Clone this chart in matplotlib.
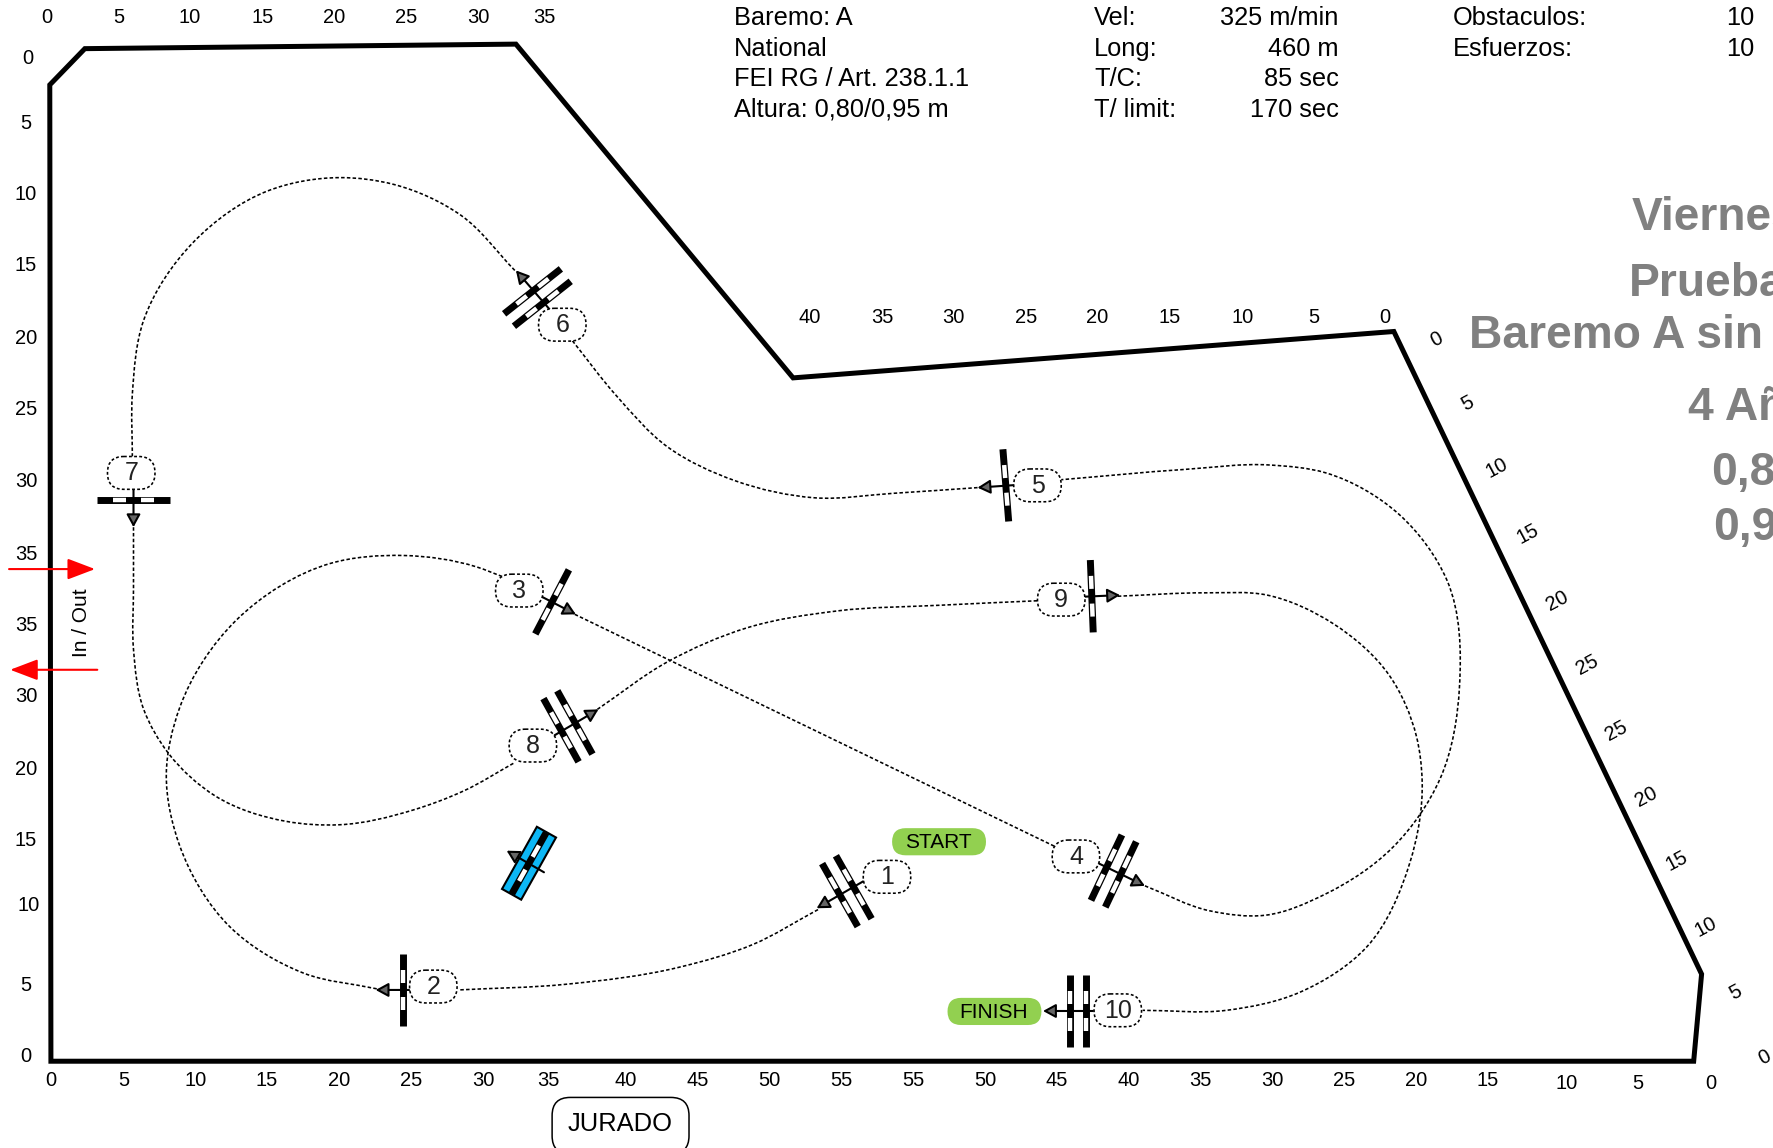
import numpy as np
import matplotlib
matplotlib.use('Agg')
import matplotlib.pyplot as plt
from matplotlib.patches import FancyBboxPatch, Polygon, PathPatch
from matplotlib.path import Path

plt.rcParams['font.family'] = ['Liberation Sans', 'DejaVu Sans']

# coordinates are read from the plan itself (1568 units wide, y going down)
ANCHO = 1568
ALTO = 1014.7

# arena
arena_x = [45, 44, 75, 456, 701, 1232, 1504, 1497]
arena_y = [938, 75, 43, 39, 334, 293, 861, 938]

# metre marks along the fences
top_labels = [0, 5, 10, 15, 20, 25, 30, 35]
top_x = [41, 105, 168, 232, 295, 359, 423, 481]
left_labels = [0, 5, 10, 15, 20, 25, 30, 35, 35, 30, 20, 15, 10, 5, 0]
left_x = [25, 23, 23, 23, 23, 23, 23, 23, 23, 23, 23, 23, 25, 23, 23]
left_y = [51, 108, 171, 234, 298, 361, 425, 489, 552, 615, 679, 742, 799, 870, 933]
bottom_labels = [0, 5, 10, 15, 20, 25, 30, 35, 40, 45, 50, 55,
                 55, 50, 45, 40, 35, 30, 25, 20, 15, 10, 5, 0]
bottom_x = [45, 109, 173, 236, 300, 363, 427, 485, 553, 617, 680, 744,
            807, 871, 934, 998, 1061, 1125, 1188, 1252, 1315, 1385, 1448, 1512]
bottom_y = [954] * 21 + [957] * 3
mid_labels = [40, 35, 30, 25, 20, 15, 10, 5, 0]
mid_x = [716, 780, 843, 907, 970, 1034, 1098, 1161, 1224]
right_labels = [0, 5, 10, 15, 20, 25, 25, 20, 15, 10, 5, 0]
right_x = [1270, 1297, 1323, 1350, 1376, 1403, 1429, 1455, 1482, 1508, 1534, 1560]
right_y = [299, 356, 413, 471, 530, 587, 645, 703, 760, 818, 876, 934]

# header
info_1 = ['Baremo: A', 'National', 'FEI RG / Art. 238.1.1', 'Altura: 0,80/0,95 m']
info_2 = ['Vel:', 'Long:', 'T/C:', 'T/ limit:']
info_2_val = ['325 m/min', '460 m', '85 sec', '170 sec']
info_3 = ['Obstaculos:', 'Esfuerzos:']
info_3_val = ['10', '10']
info_y = [15, 42, 69, 96]

# big grey title, it runs off the page on the right
titulo = ['Viernes', 'Prueba', 'Baremo A sin', '4 Años', '0,80', '0,95']
titulo_x = [1443, 1441, 1299, 1493, 1513, 1515]
titulo_y = [190, 248, 294, 358, 415, 464]

# obstacles
num = ['1', '2', '3', '4', '5', '6', '7', '8', '9', '10']
label_x = [784, 383, 459, 951, 917, 497, 116, 471, 938, 988]
label_y = [775, 872, 522, 757, 429, 287, 418, 659, 530, 893]
jump_x = [748.5, 356, 488, 984.3, 889, 475, 118, 502, 965, 952.5]
jump_y = [787.7, 875, 532, 769.9, 429, 263, 442, 642, 527, 893.6]
stem_x = [763, 362, 478, 970.8, 908, 488, 118, 490, 945, 966]
stem_y = [779, 875, 527, 763, 428, 276, 431, 650, 528, 893.6]
tip_x = [721.8, 332, 509, 1012, 864, 456, 118, 529, 990, 921.9]
tip_y = [802.8, 875, 543, 783, 431, 239, 466, 627, 526, 893.6]
rails = [2, 1, 1, 2, 1, 2, 1, 2, 1, 2]

# the practice fence in blue
blue_x, blue_y = 467.6, 763
blue_stem = [480.8, 771]
blue_tip = [447.8, 751.9]

# route between the obstacles
routes = [
    [(723, 804), (665, 835), (600, 855), (500, 870), (405, 875)],
    [(333, 874), (268, 860), (203, 819), (159, 748), (147, 684), (159, 625), (209, 548),
     (292, 498), (357, 491), (421, 501), (445, 510)],
    [(508, 543), (932, 748)],
    [(1012, 783), (1069, 805), (1118, 809), (1172, 790), (1231, 749), (1273, 688), (1290, 607),
     (1279, 513), (1237, 455), (1172, 418), (1122, 411), (1046, 415), (938, 424)],
    [(864, 431), (790, 436), (720, 440), (650, 425), (590, 395), (545, 350), (505, 300)],
    [(455, 239), (407, 190), (348, 163), (300, 157), (236, 169), (171, 214), (127, 283),
     (117, 348), (117, 405)],
    [(118, 466), (118, 520), (118, 574), (127, 627), (149, 666), (191, 704), (253, 726),
     (300, 729), (365, 716), (410, 699), (455, 674)],
    [(528, 627), (590, 585), (660, 555), (740, 540), (830, 535), (917, 531)],
    [(988, 527), (1066, 524), (1120, 526), (1178, 551), (1228, 597), (1252, 651), (1257, 690),
     (1246, 763), (1208, 837), (1149, 877), (1084, 893), (1010, 893)],
]


def smooth_path(puntos):
    # spline through the points, tangents weighted by the chord lengths
    p = np.array(puntos, dtype=float)
    if len(p) == 2:
        return Path(p)
    d = np.hypot(*np.diff(p, axis=0).T)
    tang = np.zeros_like(p)
    tang[0] = (p[1] - p[0]) / d[0]
    tang[-1] = (p[-1] - p[-2]) / d[-1]
    for i in range(1, len(p) - 1):
        a = (p[i] - p[i - 1]) / d[i - 1]
        b = (p[i + 1] - p[i]) / d[i]
        tang[i] = (a * d[i] + b * d[i - 1]) / (d[i - 1] + d[i])
    verts = [p[0]]
    codes = [Path.MOVETO]
    for i in range(len(p) - 1):
        verts += [p[i] + tang[i] * d[i] / 3, p[i + 1] - tang[i + 1] * d[i] / 3, p[i + 1]]
        codes += [Path.CURVE4] * 3
    return Path(verts, codes)


def draw_rail(ax, cx, cy, dx, dy, largo=32):
    # black rail with two white blocks, (dx, dy) is the unit vector along it
    ax.plot([cx - dx * largo, cx + dx * largo], [cy - dy * largo, cy + dy * largo],
            color='black', lw=5, solid_capstyle='butt', zorder=5)
    for a, b in [(-18, -6.5), (6.5, 18)]:
        ax.plot([cx + dx * a, cx + dx * b], [cy + dy * a, cy + dy * b],
                color='white', lw=3.2, solid_capstyle='butt', zorder=6)


def draw_stem(ax, x0, y0, x1, y1):
    ax.annotate('', xy=(x1, y1), xytext=(x0, y0), zorder=7,
                arrowprops=dict(arrowstyle='-|>,head_length=0.55,head_width=0.3', fc='#666666',
                                ec='black', lw=1.5, mutation_scale=14,
                                shrinkA=0, shrinkB=0))


fig = plt.figure(figsize=(17.74, 11.48), dpi=100)
ax = fig.add_axes([0, 0, 1, 1])
ax.set_xlim(0, ANCHO)
ax.set_ylim(ALTO, 0)
ax.axis('off')

# arena fence
ax.add_patch(Polygon(np.column_stack([arena_x, arena_y]), closed=True, fill=False,
                     ec='black', lw=3.6, joinstyle='miter', zorder=2))

# metre labels
for t, x in zip(top_labels, top_x):
    ax.text(x, 15.5, str(t), fontsize=14.5, ha='center', va='center')
for t, x, y in zip(left_labels, left_x, left_y):
    ax.text(x, y + 1, str(t), fontsize=14.5, ha='center', va='center')
for t, x, y in zip(bottom_labels, bottom_x, bottom_y):
    ax.text(x, y + 1, str(t), fontsize=14.5, ha='center', va='center')
for t, x in zip(mid_labels, mid_x):
    ax.text(x, 281, str(t), fontsize=14.5, ha='center', va='center')
for t, x, y in zip(right_labels, right_x, right_y):
    ax.text(x, y + 1, str(t), fontsize=14.5, ha='center', va='center', rotation=28)

# header texts
for t, y in zip(info_1, info_y):
    ax.text(649, y + 1, t, fontsize=18.3, ha='left', va='center')
for t, v, y in zip(info_2, info_2_val, info_y):
    ax.text(967, y + 1, t, fontsize=18.3, ha='left', va='center')
    ax.text(1183, y + 1, v, fontsize=18.3, ha='right', va='center')
for t, v, y in zip(info_3, info_3_val, info_y):
    ax.text(1284, y + 1, t, fontsize=18.3, ha='left', va='center')
    ax.text(1551, y + 1, v, fontsize=18.3, ha='right', va='center')

# title
for t, x, y in zip(titulo, titulo_x, titulo_y):
    ax.text(x - 1, y + 3, t, fontsize=33.2, fontweight='bold', color='#808080', ha='left',
            va='center', clip_on=True)

# route
for r in routes:
    ax.add_patch(PathPatch(smooth_path(r), fill=False, ec='black', lw=1.15,
                           ls=(0, (2.2, 1.4)), zorder=3))

# obstacles
for i in range(len(num)):
    d = np.array([tip_x[i] - jump_x[i], tip_y[i] - jump_y[i]], dtype=float)
    d = d / np.hypot(*d)
    perp = (-d[1], d[0])
    if rails[i] == 2:
        draw_rail(ax, jump_x[i] - d[0] * 7, jump_y[i] - d[1] * 7, *perp)
        draw_rail(ax, jump_x[i] + d[0] * 7, jump_y[i] + d[1] * 7, *perp)
    else:
        draw_rail(ax, jump_x[i], jump_y[i], *perp)
    draw_stem(ax, stem_x[i], stem_y[i], tip_x[i], tip_y[i])
    ax.add_patch(FancyBboxPatch((label_x[i] - 21, label_y[i] - 14.5), 42, 29,
                                boxstyle='round,pad=0,rounding_size=14.5', fc='white', ec='black',
                                lw=1.15, ls=(0, (1.8, 1.4)), zorder=8))
    ax.text(label_x[i], label_y[i] + 0.5, num[i], fontsize=18, ha='center', va='center',
            color='#222222', zorder=9)

# blue fence
d = np.array([blue_tip[0] - blue_x, blue_tip[1] - blue_y])
d = d / np.hypot(*d)
perp = np.array([-d[1], d[0]])
esq = [np.array([blue_x, blue_y]) + s * 9.7 * d + t * 31.5 * perp
       for s, t in [(-1, -1), (1, -1), (1, 1), (-1, 1)]]
ax.add_patch(Polygon(esq, closed=True, fc='#0DB7F5', ec='black', lw=1.5, zorder=5))
draw_rail(ax, blue_x, blue_y, perp[0], perp[1], largo=31)
draw_stem(ax, blue_stem[0], blue_stem[1], blue_tip[0], blue_tip[1])

# start / finish
for t, x, y in [('START', 830, 744), ('FINISH', 879, 894)]:
    ax.add_patch(FancyBboxPatch((x - 41.5, y - 12), 83, 24,
                                boxstyle='round,pad=0,rounding_size=12', fc='#92D050',
                                ec='none', zorder=4))
    ax.text(x - 1, y + 1, t, fontsize=15, ha='center', va='center', zorder=5)

# jury box
ax.add_patch(FancyBboxPatch((488, 970), 121, 50, boxstyle='round,pad=0,rounding_size=16',
                            fc='white', ec='black', lw=1.1, zorder=4))
ax.text(548, 993.5, 'JURADO', fontsize=18.4, ha='center', va='center', zorder=5)

# in / out
ax.text(72, 550, 'In / Out', fontsize=15, rotation=90, ha='center', va='center')
ax.annotate('', xy=(84, 503), xytext=(8, 503), zorder=6,
            arrowprops=dict(arrowstyle='-|>,head_length=1.0,head_width=0.38', fc='red', ec='red',
                            lw=1.5, mutation_scale=17, shrinkA=0, shrinkB=0))
ax.annotate('', xy=(9, 592), xytext=(86, 592), zorder=6,
            arrowprops=dict(arrowstyle='-|>,head_length=1.0,head_width=0.38', fc='red', ec='red',
                            lw=1.5, mutation_scale=17, shrinkA=0, shrinkB=0))

fig.savefig('out.png', dpi=100)
